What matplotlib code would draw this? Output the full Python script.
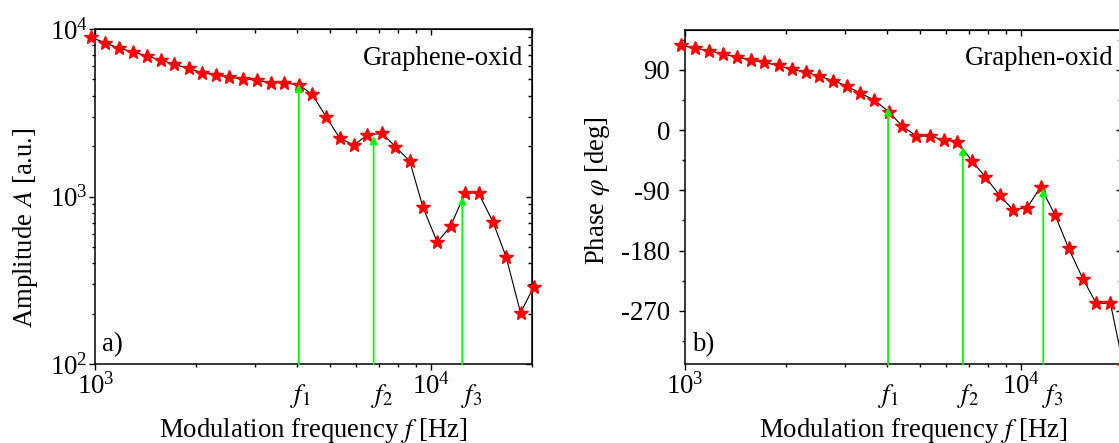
import matplotlib
matplotlib.use('Agg')
import matplotlib.pyplot as plt
import matplotlib.ticker as mticker

plt.rcParams['font.family'] = ['Liberation Serif', 'DejaVu Serif']
plt.rcParams['mathtext.fontset'] = 'stix'
plt.rcParams['axes.unicode_minus'] = False
plt.rcParams['font.size'] = 19.3

freq = [969, 1069, 1176, 1292, 1422, 1565, 1715, 1897, 2078, 2287, 2505,
        2757, 3023, 3327, 3651, 4040, 4424, 4884, 5350, 5888, 6466, 7148,
        7834, 8644, 9467, 10447, 11445, 12659, 13868, 15295, 16763, 18490, 20220]

amplitude = [8924, 8286, 7673, 7321, 6902, 6533, 6158, 5828, 5487, 5317, 5151,
             5031, 4962, 4782, 4782, 4634, 4079, 2974, 2229, 2033, 2332, 2387,
             1986, 1632, 864, 534, 668, 1056, 1047, 709, 435, 203, 288]

phase = [126.5, 122.6, 118.5, 114, 109, 105, 101, 96.5, 90.5, 86.5, 80.5,
         74, 66, 55, 45, 27.5, 6, -9, -9, -15, -17.5, -46,
         -70, -97.5, -119, -116, -85, -127.5, -176.5, -222, -259, -259, -353]

# resonance markers (arrows) and where their f_i labels sit
f_arrow_a = [4040, 6750, 12400]
tip_a = [4700, 2290, 1000]
f_label_a = [4095, 7133, 13195]

f_arrow_b = [4020, 6720, 11660]
tip_b = [34, -25, -87]
f_label_b = [4034, 6955, 12452]

f_names = ['$f_1$', '$f_2$', '$f_3$']

phase_ticks = [-270, -180, -90, 0, 90]
phase_minor = [-315, -225, -135, -45, 45, 135]

green = '#00ff00'

fig = plt.figure(figsize=(11.19, 4.43), dpi=100)
ax1 = fig.add_axes([0.0852, 0.1777, 0.3902, 0.7568])
ax2 = fig.add_axes([0.6124, 0.1777, 0.3902, 0.7553])


def style_axes(ax, ypad):
    for s in ax.spines.values():
        s.set_linewidth(1.1)
    ax.tick_params(which='both', width=1.0, direction='out')
    ax.tick_params(which='major', length=4.0)
    ax.tick_params(which='minor', length=2.3)
    ax.tick_params(axis='x', which='major', pad=2)
    ax.tick_params(axis='y', which='major', pad=ypad)
    # mirrored ticks on top and right, pointing inward, no labels
    top = ax.secondary_xaxis('top')
    right = ax.secondary_yaxis('right')
    for sec in (top, right):
        sec.tick_params(which='both', direction='in', width=1.0)
        sec.tick_params(which='major', length=4.5)
        sec.tick_params(which='minor', length=3.0)
    top.xaxis.set_major_locator(mticker.LogLocator(base=10))
    top.xaxis.set_minor_locator(mticker.LogLocator(base=10, subs=range(2, 10)))
    top.xaxis.set_major_formatter(mticker.NullFormatter())
    top.xaxis.set_minor_formatter(mticker.NullFormatter())
    return right


def draw_panel(ax, yvals, f_arrow, tips, f_label, bottom):
    ax.plot(freq, yvals, color='black', lw=0.8, zorder=2, clip_on=False)
    ax.plot(freq, yvals, ls='none', marker='*', ms=10.5, color='red',
            mec='red', zorder=3, clip_on=False)
    for f, tip in zip(f_arrow, tips):
        ax.annotate('', xy=(f, tip), xytext=(f, bottom),
                    arrowprops=dict(arrowstyle='-|>', color=green, lw=1.3,
                                    mutation_scale=11, shrinkA=0, shrinkB=0),
                    zorder=4, annotation_clip=False)
    for f, name in zip(f_label, f_names):
        ax.text(f, -0.052, name, transform=ax.get_xaxis_transform(),
                ha='center', va='top')
    ax.set_xscale('log')
    ax.set_xlim(1000, 20000)
    ax.xaxis.set_major_locator(mticker.LogLocator(base=10))
    ax.xaxis.set_minor_locator(mticker.LogLocator(base=10, subs=range(2, 10)))
    ax.xaxis.set_minor_formatter(mticker.NullFormatter())
    ax.set_xlabel('Modulation frequency $f$ [Hz]')
    ax.xaxis.label.set_va('center')
    ax.yaxis.label.set_va('center')


# a) amplitude
draw_panel(ax1, amplitude, f_arrow_a, tip_a, f_label_a, 100)
ax1.set_yscale('log')
ax1.set_ylim(100, 10000)
ax1.yaxis.set_minor_locator(mticker.LogLocator(base=10, subs=range(2, 10)))
ax1.yaxis.set_minor_formatter(mticker.NullFormatter())
ax1.set_ylabel('Amplitude $A$ [a.u.]')
ax1.yaxis.set_label_coords(-0.161, 0.4065)
ax1.xaxis.set_label_coords(0.50, -0.197)
ax1.text(0.98, 0.9135, 'Graphene-oxid', transform=ax1.transAxes,
         ha='right', va='center')
ax1.text(0.015, 0.02, 'a)', transform=ax1.transAxes, ha='left', va='bottom')
r1 = style_axes(ax1, 1.5)
r1.yaxis.set_major_locator(mticker.LogLocator(base=10))
r1.yaxis.set_minor_locator(mticker.LogLocator(base=10, subs=range(2, 10)))
r1.yaxis.set_major_formatter(mticker.NullFormatter())
r1.yaxis.set_minor_formatter(mticker.NullFormatter())

# b) phase
draw_panel(ax2, phase, f_arrow_b, tip_b, f_label_b, -350)
ax2.set_ylim(-350, 150)
ax2.yaxis.set_major_locator(mticker.FixedLocator(phase_ticks))
ax2.yaxis.set_minor_locator(mticker.FixedLocator(phase_minor))
ax2.set_ylabel(r'Phase $\varphi$ [deg]')
ax2.yaxis.set_label_coords(-0.202, 0.52)
ax2.xaxis.set_label_coords(0.521, -0.197)
ax2.text(0.98, 0.9135, 'Graphen-oxid', transform=ax2.transAxes,
         ha='right', va='center')
ax2.text(0.015, 0.02, 'b)', transform=ax2.transAxes, ha='left', va='bottom')
r2 = style_axes(ax2, 7)
r2.yaxis.set_major_locator(mticker.FixedLocator(phase_ticks))
r2.yaxis.set_minor_locator(mticker.FixedLocator(phase_minor))
r2.yaxis.set_major_formatter(mticker.NullFormatter())

fig.savefig('out.png', dpi=100)
